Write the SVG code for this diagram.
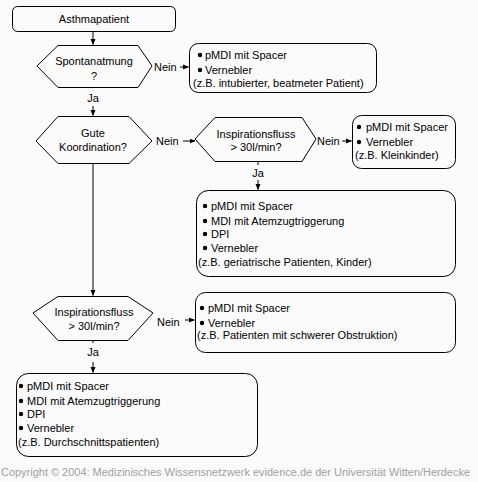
<svg xmlns="http://www.w3.org/2000/svg" width="478" height="482" viewBox="0 0 478 482">
<style>
.bg{fill:#fbfbfb}
.box{fill:#fbfbfb;stroke:#000;stroke-width:1}
.t{font-family:"Liberation Sans",Arial,sans-serif;font-size:11px;fill:#000}
.c{text-anchor:middle}
.ln{fill:none;stroke:#000;stroke-width:1}
.b{fill:#000}
.cp{font-family:"Liberation Sans",Arial,sans-serif;font-size:10px;fill:#a0a0a0}
</style>
<defs>
<marker id="ah" markerWidth="6" markerHeight="6" refX="5.5" refY="3" orient="auto" markerUnits="userSpaceOnUse">
<path d="M0,0.5 L6,3 L0,5.5 z" fill="#000"/>
</marker>
</defs>
<rect class="bg" x="0" y="0" width="478" height="482"/>

<g id="connectors">
<path class="ln" d="M93,31 V44.5" marker-end="url(#ah)"/>
<path class="ln" d="M180,67 H188.5" marker-end="url(#ah)"/>
<path class="ln" d="M93,106 V115.5" marker-end="url(#ah)"/>
<path class="ln" d="M183,141 H195" marker-end="url(#ah)"/>
<path class="ln" d="M342,141 H351.5" marker-end="url(#ah)"/>
<path class="ln" d="M258,162 V165"/>
<path class="ln" d="M258,180 V189.5" marker-end="url(#ah)"/>
<path class="ln" d="M93,163 V295.5" marker-end="url(#ah)"/>
<path class="ln" d="M185,320 H194.5" marker-end="url(#ah)"/>
<path class="ln" d="M93,340 V343"/>
<path class="ln" d="M93,362 V372.5" marker-end="url(#ah)"/>
<text class="t" x="154" y="71">Nein</text>
<text class="t c" x="93" y="102">Ja</text>
<text class="t" x="156" y="145">Nein</text>
<text class="t" x="317" y="145">Nein</text>
<text class="t c" x="258" y="177">Ja</text>
<text class="t" x="157" y="326">Nein</text>
<text class="t c" x="93" y="356">Ja</text>
</g>

<g id="n-asthmapatient">
<rect class="box" x="12.5" y="6.5" width="163" height="25" rx="5"/>
<text class="t c" x="94" y="23">Asthmapatient</text>
</g>

<g id="n-spontanatmung">
<polygon class="box" points="37,66 58,45.5 138,45.5 152,66 138,87.5 58,87.5"/>
<text class="t c" x="94" y="65">Spontanatmung</text>
<text class="t c" x="94" y="80">?</text>
</g>

<g id="n-box1">
<rect class="box" x="189.5" y="43.5" width="187" height="49" rx="9"/>
<circle class="b" cx="200" cy="55" r="2.2"/>
<text class="t" x="205" y="59">pMDI mit Spacer</text>
<circle class="b" cx="200" cy="70" r="2.2"/>
<text class="t" x="205" y="74">Vernebler</text>
<text class="t" x="193" y="87">(z.B. intubierter, beatmeter Patient)</text>
</g>

<g id="n-koordination">
<polygon class="box" points="36,141 58,116.5 129,116.5 152,141 129,163.5 58,163.5"/>
<text class="t c" x="93" y="137">Gute</text>
<text class="t c" x="93" y="151">Koordination?</text>
</g>

<g id="n-inspir1">
<polygon class="box" points="195,139 215,117.5 302,117.5 316,139 302,161.5 215,161.5"/>
<text class="t c" x="256" y="138">Inspirationsfluss</text>
<text class="t c" x="256" y="151">&gt; 30l/min?</text>
</g>

<g id="n-box2">
<rect class="box" x="352.5" y="115.5" width="103" height="53" rx="9"/>
<circle class="b" cx="359" cy="127" r="2.2"/>
<text class="t" x="366" y="131">pMDI mit Spacer</text>
<circle class="b" cx="359" cy="142" r="2.2"/>
<text class="t" x="366" y="146">Vernebler</text>
<text class="t" x="355" y="159">(z.B. Kleinkinder)</text>
</g>

<g id="n-box3">
<rect class="box" x="196.5" y="190.5" width="259" height="86" rx="12"/>
<circle class="b" cx="205" cy="206" r="2.2"/>
<text class="t" x="211" y="210">pMDI mit Spacer</text>
<circle class="b" cx="205" cy="221" r="2.2"/>
<text class="t" x="211" y="225">MDI mit Atemzugtriggerung</text>
<circle class="b" cx="205" cy="234" r="2.2"/>
<text class="t" x="211" y="238">DPI</text>
<circle class="b" cx="205" cy="248" r="2.2"/>
<text class="t" x="211" y="252">Vernebler</text>
<text class="t" x="198" y="266">(z.B. geriatrische Patienten, Kinder)</text>
</g>

<g id="n-inspir2">
<polygon class="box" points="33,313 58,296.5 128,296.5 153,313 128,340.5 58,340.5"/>
<text class="t c" x="94" y="316">Inspirationsfluss</text>
<text class="t c" x="94" y="330">&gt; 30l/min?</text>
</g>

<g id="n-box4">
<rect class="box" x="195.5" y="292.5" width="260" height="60" rx="10"/>
<circle class="b" cx="202" cy="308" r="2.2"/>
<text class="t" x="208" y="312">pMDI mit Spacer</text>
<circle class="b" cx="202" cy="323" r="2.2"/>
<text class="t" x="208" y="327">Vernebler</text>
<text class="t" x="197" y="339">(z.B. Patienten mit schwerer Obstruktion)</text>
</g>

<g id="n-box5">
<rect class="box" x="16.5" y="373.5" width="241" height="83" rx="12"/>
<circle class="b" cx="21" cy="386" r="2.2"/>
<text class="t" x="27" y="390">pMDI mit Spacer</text>
<circle class="b" cx="21" cy="401" r="2.2"/>
<text class="t" x="27" y="405">MDI mit Atemzugtriggerung</text>
<circle class="b" cx="21" cy="414" r="2.2"/>
<text class="t" x="27" y="418">DPI</text>
<circle class="b" cx="21" cy="428" r="2.2"/>
<text class="t" x="27" y="432">Vernebler</text>
<text class="t" x="18" y="446">(z.B. Durchschnittspatienten)</text>
</g>

<text class="cp" x="1" y="476" textLength="469" lengthAdjust="spacingAndGlyphs">Copyright © 2004:  Medizinisches Wissensnetzwerk evidence.de der Universität Witten/Herdecke</text>
</svg>
